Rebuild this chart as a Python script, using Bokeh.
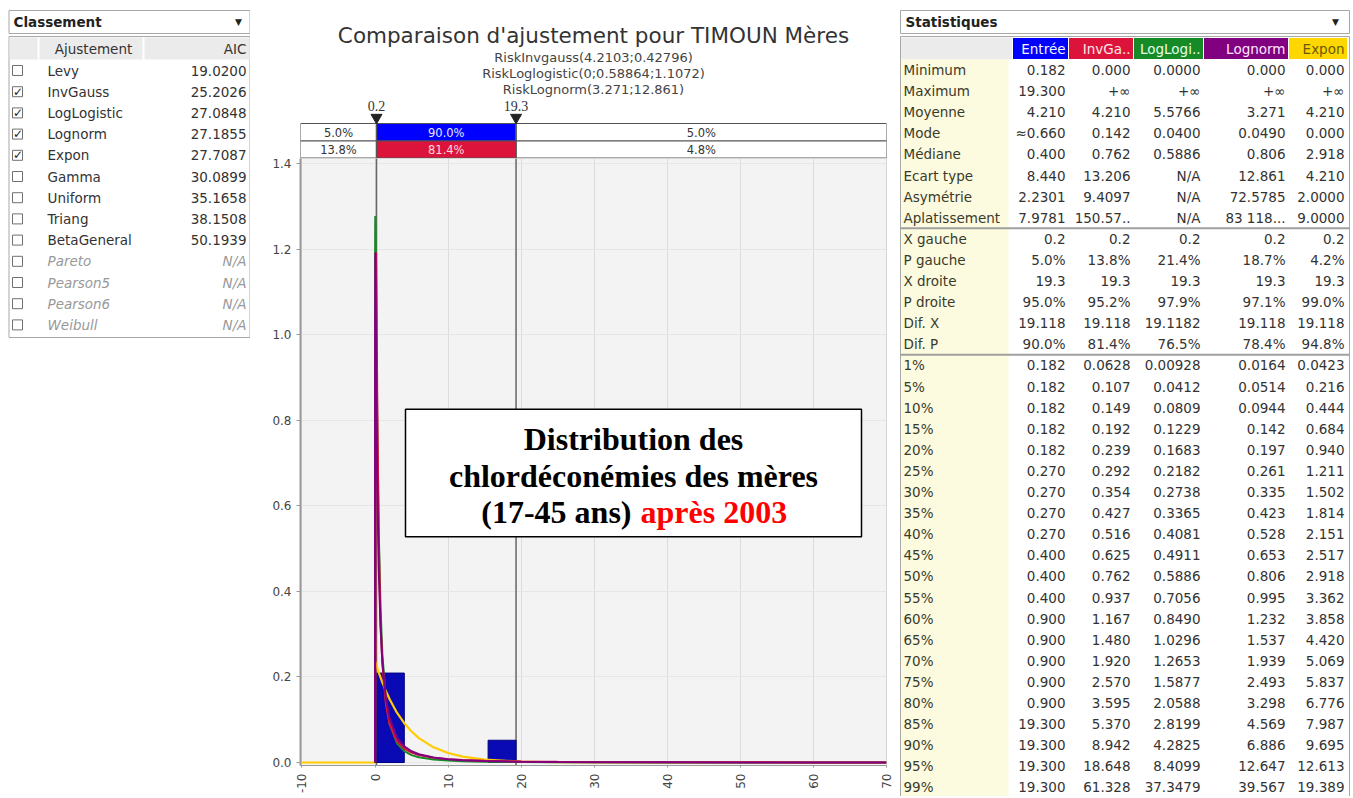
import math
from bokeh.plotting import figure
from bokeh.layouts import row, column
from bokeh.models import Range1d, FixedTicker, PrintfTickFormatter, Span
from bokeh.core.properties import value
from bokeh.embed import file_html
from bokeh.resources import INLINE

# ------------------------------------------------------------------ data
chart_title = "Comparaison d'ajustement pour TIMOUN Mères"
fit_formulas = ["RiskInvgauss(4.2103;0.42796)",
                "RiskLoglogistic(0;0.58864;1.1072)",
                "RiskLognorm(3.271;12.861)"]

rank_title = "Classement"
rank_headers = ["Ajustement", "AIC"]
fit_names = ["Levy", "InvGauss", "LogLogistic", "Lognorm", "Expon", "Gamma",
             "Uniform", "Triang", "BetaGeneral", "Pareto", "Pearson5",
             "Pearson6", "Weibull"]
fit_aic = ["19.0200", "25.2026", "27.0848", "27.1855", "27.7087", "30.0899",
           "35.1658", "38.1508", "50.1939", "N/A", "N/A", "N/A", "N/A"]
fit_checked = [False, True, True, True, True, False, False, False, False,
               False, False, False, False]
fit_available = [True, True, True, True, True, True, True, True, True,
                 False, False, False, False]

x_ticks = [-10, 0, 10, 20, 30, 40, 50, 60, 70]
y_ticks = [0.0, 0.2, 0.4, 0.6, 0.8, 1.0, 1.2, 1.4]

hist_left = [0.182, 15.476]
hist_right = [4.006, 19.300]
hist_density = [0.209, 0.052]

curve_x = [0.0, 0.005, 0.01, 0.02, 0.04, 0.06, 0.08, 0.1, 0.15, 0.2, 0.3, 0.5,
           0.75, 1.0, 1.5, 2.0, 3.0, 4.0, 5.0, 6.0, 8.0, 10.0, 12.0, 15.0,
           20.0, 25.0, 30.0, 40.0, 50.0, 60.0, 70.0]
invgauss_pdf = [0.0, 0.0, 0.0, 0.002, 0.171, 0.555, 0.879, 1.074, 1.192, 1.105,
                0.858, 0.529, 0.331, 0.231, 0.134, 0.0896, 0.0499, 0.0326,
                0.0233, 0.0176, 0.0113, 0.0079, 0.0059, 0.0041, 0.0025, 0.0017,
                0.0012, 0.0007, 0.00045, 0.0003, 0.0002]
loglogistic_pdf = [0.0, 1.117, 1.189, 1.249, 1.277, 1.263, 1.233, 1.196, 1.091,
                   0.987, 0.805, 0.549, 0.3625, 0.254, 0.143, 0.090, 0.045,
                   0.0265, 0.0173, 0.0122, 0.0069, 0.0044, 0.0031, 0.0019,
                   0.0011, 0.00068, 0.00046, 0.00025, 0.00017, 0.00012, 0.0001]
lognorm_pdf = [0.0, 0.474, 0.764, 1.039, 1.191, 1.191, 1.149, 1.095, 0.959,
               0.843, 0.667, 0.458, 0.3175, 0.236, 0.148, 0.103, 0.058, 0.0377,
               0.0263, 0.0194, 0.0116, 0.0077, 0.0054, 0.0035, 0.0019, 0.00116,
               0.00077, 0.00039, 0.00022, 0.00013, 0.00008]
expon_x = [-10.0, 0.0, 0.0, 0.5, 1.0, 1.5, 2.0, 3.0, 4.0, 5.0, 6.0, 8.0, 10.0,
           12.0, 15.0, 20.0, 25.0, 30.0, 40.0, 50.0, 60.0, 70.0]
expon_pdf = [0.0, 0.0, 0.2375, 0.2109, 0.1873, 0.1664, 0.1477, 0.1165, 0.0919,
             0.0724, 0.0571, 0.0355, 0.0221, 0.0137, 0.0067, 0.0021, 0.0006,
             0.0002, 0.0, 0.0, 0.0, 0.0]

interval_left = 0.2
interval_right = 19.3
input_probs = ["5.0%", "90.0%", "5.0%"]
invgauss_probs = ["13.8%", "81.4%", "4.8%"]

box_line1 = "Distribution des"
box_line2 = "chlordéconémies des mères"
box_line3a = "(17-45 ans)"
box_line3b = "après 2003"

stats_title = "Statistiques"
stats_columns = ["Entrée", "InvGa..", "LogLogi..", "Lognorm", "Expon"]
stat_labels = ["Minimum", "Maximum", "Moyenne", "Mode", "Médiane",
               "Ecart type", "Asymétrie", "Aplatissement"]
entree_stats = ["0.182", "19.300", "4.210", "≈0.660", "0.400", "8.440", "2.2301", "7.9781"]
invgauss_stats = ["0.000", "+∞", "4.210", "0.142", "0.762", "13.206", "9.4097", "150.57.."]
loglogistic_stats = ["0.0000", "+∞", "5.5766", "0.0400", "0.5886", "N/A", "N/A", "N/A"]
lognorm_stats = ["0.000", "+∞", "3.271", "0.0490", "0.806", "12.861", "72.5785", "83 118..."]
expon_stats = ["0.000", "+∞", "4.210", "0.000", "2.918", "4.210", "2.0000", "9.0000"]

interval_labels = ["X gauche", "P gauche", "X droite", "P droite", "Dif. X", "Dif. P"]
entree_interval = ["0.2", "5.0%", "19.3", "95.0%", "19.118", "90.0%"]
invgauss_interval = ["0.2", "13.8%", "19.3", "95.2%", "19.118", "81.4%"]
loglogistic_interval = ["0.2", "21.4%", "19.3", "97.9%", "19.1182", "76.5%"]
lognorm_interval = ["0.2", "18.7%", "19.3", "97.1%", "19.118", "78.4%"]
expon_interval = ["0.2", "4.2%", "19.3", "99.0%", "19.118", "94.8%"]

pct_labels = ["1%", "5%", "10%", "15%", "20%", "25%", "30%", "35%", "40%", "45%",
              "50%", "55%", "60%", "65%", "70%", "75%", "80%", "85%", "90%",
              "95%", "99%"]
entree_pct = ["0.182", "0.182", "0.182", "0.182", "0.182", "0.270", "0.270",
              "0.270", "0.270", "0.400", "0.400", "0.400", "0.900", "0.900",
              "0.900", "0.900", "0.900", "19.300", "19.300", "19.300", "19.300"]
invgauss_pct = ["0.0628", "0.107", "0.149", "0.192", "0.239", "0.292", "0.354",
                "0.427", "0.516", "0.625", "0.762", "0.937", "1.167", "1.480",
                "1.920", "2.570", "3.595", "5.370", "8.942", "18.648", "61.328"]
loglogistic_pct = ["0.00928", "0.0412", "0.0809", "0.1229", "0.1683", "0.2182",
                   "0.2738", "0.3365", "0.4081", "0.4911", "0.5886", "0.7056",
                   "0.8490", "1.0296", "1.2653", "1.5877", "2.0588", "2.8199",
                   "4.2825", "8.4099", "37.3479"]
lognorm_pct = ["0.0164", "0.0514", "0.0944", "0.142", "0.197", "0.261", "0.335",
               "0.423", "0.528", "0.653", "0.806", "0.995", "1.232", "1.537",
               "1.939", "2.493", "3.298", "4.569", "6.886", "12.647", "39.567"]
expon_pct = ["0.0423", "0.216", "0.444", "0.684", "0.940", "1.211", "1.502",
             "1.814", "2.151", "2.517", "2.918", "3.362", "3.858", "4.420",
             "5.069", "5.837", "6.776", "7.987", "9.695", "12.613", "19.389"]

# ------------------------------------------------------------------ styles
C_ENTREE = "#0000ff"
C_HIST = "#0a0ab4"
C_INVG = "#dc143c"
C_LOGL = "#178a28"
C_LOGN = "#800080"
C_EXPN = "#ffcc00"
C_EXPN_HEAD = "#ffd700"
TXT = "#333333"
FONT = "DejaVu Sans"
TSIZE = "13.5px"
PAGE_H = 796


def txt(f, xs, ys, texts, size=TSIZE, align="left", color=TXT, font=FONT,
        style="normal", baseline="middle"):
    f.text(x=xs, y=ys, text=texts, text_font=value(font), text_font_size=size,
           text_align=align, text_baseline=baseline, text_color=color,
           text_font_style=style)


def make_panel(x0, x1):
    f = figure(width=x1 - x0, height=PAGE_H, x_range=Range1d(x0, x1),
               y_range=Range1d(PAGE_H, 0), x_axis_type=None, y_axis_type=None,
               output_backend="svg", toolbar_location=None, min_border=0)
    f.outline_line_color = None
    f.background_fill_color = "white"
    f.border_fill_color = "white"
    return f


# ------------------------------------------------------------------ left panel
lp = make_panel(0, 250)
lp.quad(left=[8.5], right=[249.5], top=[10], bottom=[33], fill_color="white",
        line_color="#a8a8a8")
txt(lp, [13], [21.5], [rank_title], style="bold", color="#222222")
txt(lp, [238], [21], ["▼"], size="9px", align="center", color="#222222")
lp.quad(left=[8.5], right=[249.5], top=[36], bottom=[337], fill_color="white",
        line_color="#a8a8a8")
lp.quad(left=[9], right=[249], top=[37], bottom=[59], fill_color="#ebebeb",
        line_color=None)
lp.segment(x0=[38, 143], y0=[37, 37], x1=[38, 143], y1=[59, 59],
           line_color="white", line_width=2)
txt(lp, [93], [48.5], [rank_headers[0]], align="center")
txt(lp, [246], [48.5], [rank_headers[1]], align="right")

row_y = [70 + 21.2 * i for i in range(len(fit_names))]
lp.scatter(x=[17] * len(fit_names), y=row_y, marker="square", size=10,
           fill_color="white", line_color="#707070")
chk_y = [y for y, c in zip(row_y, fit_checked) if c]
txt(lp, [17.5] * len(chk_y), chk_y, ["✓"] * len(chk_y), size="12px",
    align="center", style="bold", color="#222222")
name_col = [TXT if a else "#999999" for a in fit_available]
name_sty = ["normal" if a else "italic" for a in fit_available]
txt(lp, [47] * len(fit_names), row_y, fit_names, color=name_col, style=name_sty)
txt(lp, [246] * len(fit_names), row_y, fit_aic, align="right", color=name_col,
    style=name_sty)

# ------------------------------------------------------------------ middle: chart
XR = Range1d(-10.2, 70.0)
YR = Range1d(-0.007, 1.4116)
FRAME_L, FRAME_W = 300, 586
FRAME_B, FRAME_H = 768, 610

head = figure(width=647, height=158, x_range=XR, y_range=Range1d(158, 0),
              x_axis_type=None, y_axis_type=None, output_backend="svg",
              toolbar_location=None, min_border_left=50, min_border_right=11,
              min_border_top=0, min_border_bottom=0)
head.outline_line_color = None
head.background_fill_color = "white"
head.border_fill_color = "white"

mid_x = (XR.start + XR.end) / 2
txt(head, [mid_x], [35], [chart_title], size="21.5px", align="center")
txt(head, [mid_x] * 3, [57, 73, 89], fit_formulas, size="13px", align="center",
    color="#444444")

seg_edges = [XR.start, interval_left, interval_right, XR.end]
seg_centers = [(a + b) / 2 for a, b in zip(seg_edges[:-1], seg_edges[1:])]
head.quad(left=seg_edges[:-1], right=seg_edges[1:], top=[123] * 3,
          bottom=[140.5] * 3, fill_color=["white", C_ENTREE, "white"],
          line_color="#555555", line_width=1)
head.quad(left=seg_edges[:-1], right=seg_edges[1:], top=[140.5] * 3,
          bottom=[157.5] * 3, fill_color=["white", C_INVG, "white"],
          line_color="#555555", line_width=1)
txt(head, seg_centers, [132] * 3, input_probs, size="11.5px", align="center",
    color=[TXT, "#e8e8ff", TXT])
txt(head, seg_centers, [149.5] * 3, invgauss_probs, size="11.5px",
    align="center", color=[TXT, "#ffd8d8", TXT])
head.segment(x0=[interval_left, interval_right], y0=[118, 118],
             x1=[interval_left, interval_right], y1=[158, 158],
             line_color="#555555", line_width=1.5)
head.scatter(x=[interval_left, interval_right], y=[117, 117],
             marker="inverted_triangle", size=11, fill_color="#222222",
             line_color="#222222")
txt(head, [interval_left, interval_right], [105, 105],
    [f"{interval_left}", f"{interval_right}"], size="14px", align="center",
    font="Liberation Serif", color="#333333")

chart = figure(width=647, height=PAGE_H - 158, x_range=XR, y_range=YR,
               output_backend="svg", toolbar_location=None,
               min_border_left=50, min_border_right=11, min_border_top=0,
               min_border_bottom=PAGE_H - FRAME_B)
chart.background_fill_color = "#f3f3f3"
chart.border_fill_color = "white"
chart.outline_line_color = "#d5d5d5"
chart.xaxis.ticker = FixedTicker(ticks=x_ticks, minor_ticks=[])
chart.yaxis.ticker = FixedTicker(ticks=y_ticks, minor_ticks=[])
chart.xaxis.formatter = PrintfTickFormatter(format="%d")
chart.yaxis.formatter = PrintfTickFormatter(format="%.1f")
chart.xaxis.major_label_orientation = math.pi / 2
for ax in (chart.xaxis, chart.yaxis):
    ax.major_label_text_font = FONT
    ax.major_label_text_font_size = "12px"
    ax.major_label_text_color = "#444444"
    ax.axis_line_color = "#9a9a9a"
    ax.major_tick_line_color = "#9a9a9a"
    ax.minor_tick_line_color = None
    ax.major_tick_in = 0
chart.yaxis.axis_line_width = 2
chart.yaxis.major_tick_out = 4
chart.yaxis.major_label_standoff = 5
chart.xaxis.major_tick_out = 2
chart.xaxis.major_label_standoff = 6
chart.xgrid.grid_line_color = "#dcdcdc"
chart.ygrid.grid_line_color = "#e6e6e6"

for loc in (interval_left, interval_right):
    chart.add_layout(Span(location=loc, dimension="height", line_color="#666666",
                          line_width=1.5, level="underlay"))

chart.quad(left=hist_left, right=hist_right, bottom=[0] * len(hist_left),
           top=hist_density, fill_color=C_HIST, line_color="#000080")
chart.line(expon_x, expon_pdf, line_color=C_EXPN, line_width=2.2)
chart.line(curve_x, loglogistic_pdf, line_color=C_LOGL, line_width=2)
chart.line(curve_x, invgauss_pdf, line_color=C_INVG, line_width=2)
chart.line(curve_x, lognorm_pdf, line_color=C_LOGN, line_width=2)


def px2x(px):
    return XR.start + (px - FRAME_L) * (XR.end - XR.start) / FRAME_W


def py2y(py):
    return YR.start + (FRAME_B - py) * (YR.end - YR.start) / FRAME_H


chart.quad(left=[px2x(405)], right=[px2x(861)], top=[py2y(410)],
           bottom=[py2y(538)], fill_color="white", line_color="black",
           line_width=1.5)
txt(chart, [px2x(633)] * 2, [py2y(440), py2y(477)], [box_line1, box_line2],
    size="32px", align="center", font="Liberation Serif", style="bold",
    color="black")
txt(chart, [px2x(631)], [py2y(513)], [box_line3a], size="32px", align="right",
    font="Liberation Serif", style="bold", color="black")
txt(chart, [px2x(640)], [py2y(513)], [box_line3b], size="32px", align="left",
    font="Liberation Serif", style="bold", color="#ff0000")

middle = column(head, chart, spacing=0)

# ------------------------------------------------------------------ right panel
rp = make_panel(897, 1351)
rp.quad(left=[900], right=[1349], top=[10], bottom=[33], fill_color="white",
        line_color="#a8a8a8")
txt(rp, [905], [21.5], [stats_title], style="bold", color="#222222")
txt(rp, [1335], [21], ["▼"], size="9px", align="center", color="#222222")
rp.quad(left=[900], right=[1349], top=[36], bottom=[PAGE_H + 5],
        fill_color="white", line_color="#a8a8a8")
col_edges = [1012, 1068, 1133, 1203, 1288, 1347]
rp.quad(left=[900.5], right=[col_edges[0]], top=[37], bottom=[59],
        fill_color="#ebebeb", line_color=None)
rp.quad(left=col_edges[:-1], right=col_edges[1:], top=[37] * 5,
        bottom=[59] * 5, fill_color=[C_ENTREE, C_INVG, C_LOGL, C_LOGN, C_EXPN_HEAD],
        line_color="white", line_width=1)
col_right = [e - 3 for e in col_edges[1:]]
txt(rp, col_right, [48.5] * 5, stats_columns, align="right",
    color=["#f4f4ff", "#ffe6e6", "#e6ffe6", "#ffe6ff", "#6a5a00"])

all_labels = stat_labels + interval_labels + pct_labels
columns_vals = [
    entree_stats + entree_interval + entree_pct,
    invgauss_stats + invgauss_interval + invgauss_pct,
    loglogistic_stats + loglogistic_interval + loglogistic_pct,
    lognorm_stats + lognorm_interval + lognorm_pct,
    expon_stats + expon_interval + expon_pct,
]
step = 21.1
ry = [69.5 + step * i for i in range(len(all_labels))]
rp.quad(left=[900.5], right=[1008], top=[59], bottom=[PAGE_H + 4],
        fill_color="#fcfadf", line_color=None)
n1 = len(stat_labels)
n2 = n1 + len(interval_labels)
sep_y = [(ry[n1 - 1] + ry[n1]) / 2, (ry[n2 - 1] + ry[n2]) / 2]
rp.segment(x0=[900] * 2, y0=sep_y, x1=[1349] * 2, y1=sep_y,
           line_color="#a0a0a0", line_width=2)
txt(rp, [903] * len(all_labels), ry, all_labels, color="#3a3a2a")
for xr, vals in zip(col_right, columns_vals):
    txt(rp, [xr] * len(vals), ry, vals, align="right")

layout = row(lp, middle, rp, spacing=0)
open("out.html", "w").write(file_html(layout, INLINE, "Comparaison d'ajustement"))
